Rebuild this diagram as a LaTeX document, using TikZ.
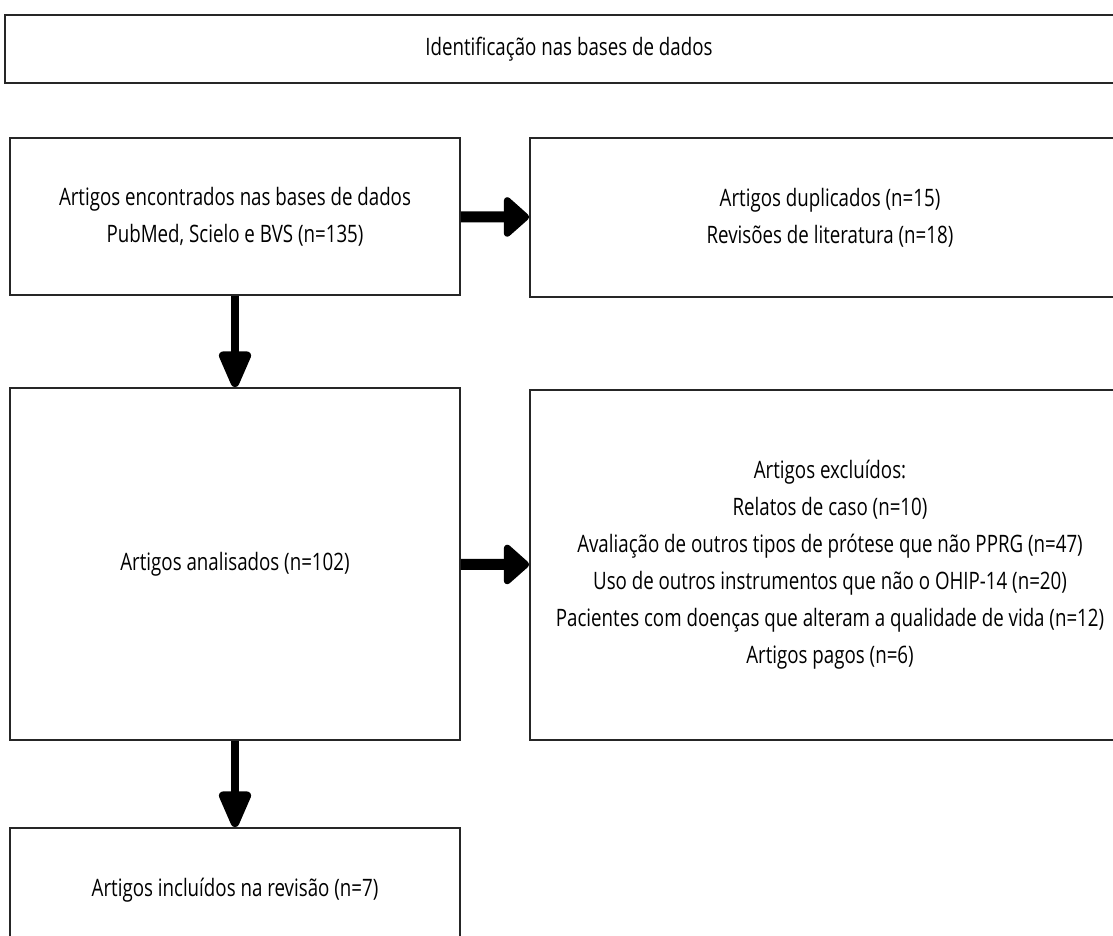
\documentclass[tikz,border=0pt]{standalone}
\usepackage{fontspec}
\setmainfont[FakeStretch=0.78]{Open Sans}
\usetikzlibrary{arrows.meta}
\tikzset{
    box/.style 2 args={draw=black!85,line width=1.8pt,fill=white,align=center,inner sep=0pt,minimum width={#1},minimum height={#2},font=\fontsize{24}{37}\selectfont},
    hflow/.style={line width=11pt,-{Triangle[width=46pt,length=27pt,round]}},
    vflow/.style={line width=8.5pt,-{Triangle[width=34pt,length=43pt,round]}}
}
\def\bw{450}
\def\rw{600}

\begin{document}
\begin{tikzpicture}[x=1pt,y=-1pt]
  \useasboundingbox (0,0) rectangle (1113,936);
  \clip (0,0) rectangle (1113,936);

  % Boxes
  \node[box={1128}{68}] (ident) at (569,49) {Identificação nas bases de dados};
  \node[box={\bw}{157}] (found) at (235,216.5) {Artigos encontrados nas bases de dados\\PubMed, Scielo e BVS (n=135)};
  \node[box={\rw}{159}] (dup) at (830,217.5) {Artigos duplicados (n=15)\\Revisões de literatura (n=18)};
  \node[box={\bw}{352}] (analys) at (235,564) {Artigos analisados (n=102)};
  \node[box={\rw}{350}] (excl) at (830,565) {Artigos excluídos:\\Relatos de caso (n=10)\\Avaliação de outros tipos de prótese que não PPRG (n=47)\\Uso de outros instrumentos que não o OHIP-14 (n=20)\\Pacientes com doenças que alteram a qualidade de vida (n=12)\\Artigos pagos (n=6)};
  \node[box={\bw}{124}] (incl) at (235,890) {Artigos incluídos na revisão (n=7)};

  % Arrows
  \draw[hflow] (found) -- (dup);
  \draw[vflow] (found) -- (analys);
  \draw[hflow] (analys) -- (excl);
  \draw[vflow] (analys) -- (incl);
\end{tikzpicture}
\end{document}
